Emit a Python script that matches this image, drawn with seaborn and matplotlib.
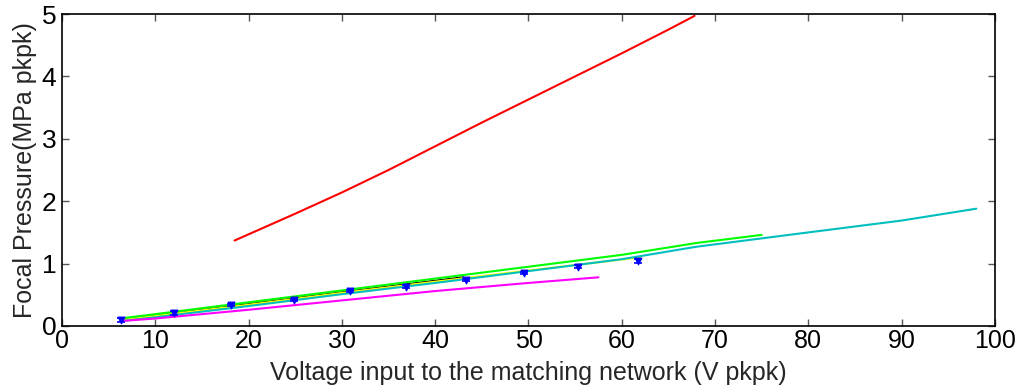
import numpy as np
import pandas as pd
import matplotlib
matplotlib.use("Agg")
import matplotlib.pyplot as plt
import seaborn as sns

# Measured focal pressure (MPa pkpk) vs. drive voltage (V pkpk)
meas_v = [6.3, 12.0, 18.1, 24.9, 30.9, 36.9, 43.3, 49.5, 55.3, 61.7]
meas_p = [0.10, 0.21, 0.34, 0.42, 0.56, 0.63, 0.74, 0.85, 0.95, 1.04]
meas_err = [0.03, 0.03, 0.02, 0.02, 0.02, 0.02, 0.02, 0.02, 0.02, 0.03]

# Model curves for the different configurations
red_v = [18.5, 25, 30, 35, 40, 45, 50, 55, 60, 65, 67.8]
red_p = [1.37, 1.80, 2.14, 2.50, 2.88, 3.26, 3.63, 4.00, 4.37, 4.75, 4.97]

cyan_v = [6.5, 10, 20, 30, 40, 50, 60, 68, 80, 90, 98]
cyan_p = [0.08, 0.14, 0.32, 0.51, 0.69, 0.88, 1.07, 1.27, 1.50, 1.69, 1.88]

green_v = [6.8, 10, 20, 30, 40, 50, 60, 68, 75]
green_p = [0.13, 0.19, 0.38, 0.57, 0.76, 0.95, 1.14, 1.33, 1.46]

yellow_v = [6.5, 10, 20, 30, 40, 50, 62]
yellow_p = [0.10, 0.16, 0.34, 0.53, 0.71, 0.89, 1.10]

black_v = [6.5, 10, 20, 30, 43]
black_p = [0.10, 0.16, 0.35, 0.54, 0.78]

magenta_v = [6.3, 10, 20, 30, 40, 50, 57.5]
magenta_p = [0.08, 0.12, 0.26, 0.41, 0.56, 0.69, 0.78]

x_ticks = [0, 10, 20, 30, 40, 50, 60, 70, 80, 90, 100]
y_ticks = [0, 1, 2, 3, 4, 5]

sns.set_theme(style="white")
plt.rcParams["font.family"] = ["Liberation Sans", "DejaVu Sans"]

fig = plt.figure(figsize=(10.21, 3.88), dpi=100)
ax = fig.add_axes([0.0607, 0.1598, 0.9138, 0.8041])

curves = [
    (red_v, red_p, "#ff0000"),
    (black_v, black_p, "#000000"),
    (yellow_v, yellow_p, "#ffff00"),
    (cyan_v, cyan_p, "#00bfbf"),
    (green_v, green_p, "#00ff00"),
    (magenta_v, magenta_p, "#ff00ff"),
]
for xs, ys, col in curves:
    sns.lineplot(x=xs, y=ys, color=col, linewidth=1.5, ax=ax,
                 estimator=None, sort=False)

ax.errorbar(meas_v, meas_p, yerr=meas_err, fmt="none", ecolor="#0000ff",
            elinewidth=1.2, capsize=3, capthick=1.2, zorder=5)
sns.scatterplot(x=meas_v, y=meas_p, marker="v", color="#0000ff", s=24,
                edgecolor="#0000ff", linewidth=0.8, ax=ax, zorder=6)

ax.set_xlim(0, 100)
ax.set_ylim(0, 5)
ax.set_xticks(x_ticks)
ax.set_yticks(y_ticks)
ax.set_xticklabels([str(t) for t in x_ticks])
ax.set_yticklabels([str(t) for t in y_ticks])
ax.tick_params(direction="in", length=5, width=1, colors="#555555",
               labelcolor="black", top=True, right=True,
               bottom=True, left=True)
ax.tick_params(axis="x", labelsize=18, pad=2)
ax.tick_params(axis="y", labelsize=19, pad=4)
for side in ["left", "right", "top", "bottom"]:
    ax.spines[side].set_visible(True)
    ax.spines[side].set_color("black")
    ax.spines[side].set_linewidth(1.2)

ax.set_xlabel("Voltage input to the matching network (V pkpk)", fontsize=18)
ax.xaxis.set_label_coords(0.5, -0.112)
ax.set_ylabel("Focal Pressure(MPa pkpk)", fontsize=18)
ax.yaxis.set_label_coords(-0.027, 0.5)
ax.grid(False)

fig.savefig("out.png", dpi=100, facecolor="white")
